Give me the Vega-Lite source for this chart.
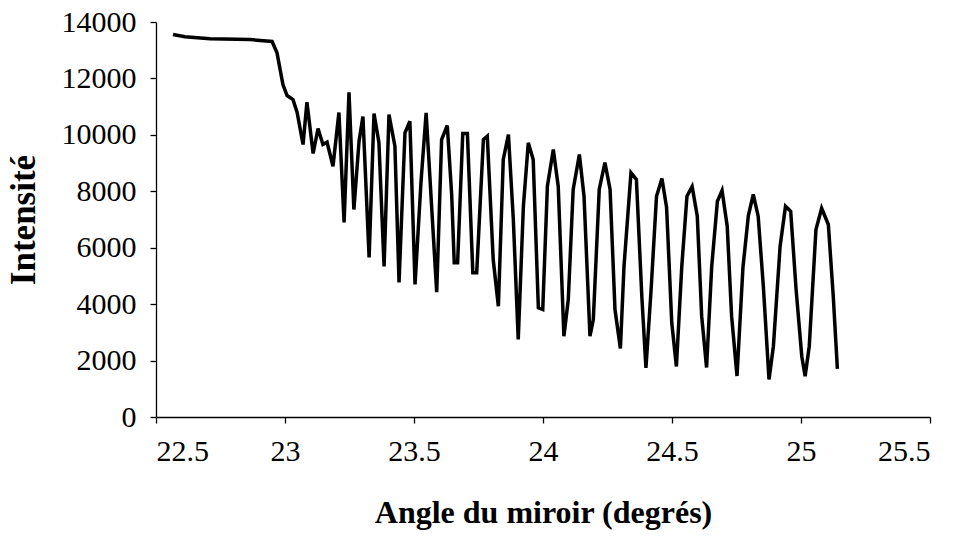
{
  "$schema": "https://vega.github.io/schema/vega-lite/v6.json",
  "width": 774,
  "height": 395,
  "autosize": {"type": "none"},
  "padding": {"left": 156, "top": 22, "right": 32, "bottom": 123},
  "background": "white",
  "config": {
    "view": {"stroke": null},
    "font": "Liberation Serif",
    "axis": {
      "grid": false,
      "domainColor": "black",
      "domainWidth": 1.3,
      "tickColor": "black",
      "tickWidth": 1.3,
      "tickSize": 6,
      "labelFont": "Liberation Serif",
      "labelFontSize": 30,
      "labelColor": "black",
      "titleFont": "Liberation Serif",
      "titleFontWeight": "bold",
      "titleColor": "black"
    }
  },
  "data": {
    "values": [
      {"angle": 22.566, "intensite": 13556},
      {"angle": 22.612, "intensite": 13474},
      {"angle": 22.709, "intensite": 13403},
      {"angle": 22.864, "intensite": 13379},
      {"angle": 22.950, "intensite": 13308},
      {"angle": 22.969, "intensite": 12907},
      {"angle": 22.992, "intensite": 11784},
      {"angle": 23.008, "intensite": 11394},
      {"angle": 23.031, "intensite": 11252},
      {"angle": 23.047, "intensite": 10792},
      {"angle": 23.070, "intensite": 9658},
      {"angle": 23.085, "intensite": 11157},
      {"angle": 23.109, "intensite": 9339},
      {"angle": 23.128, "intensite": 10224},
      {"angle": 23.147, "intensite": 9658},
      {"angle": 23.163, "intensite": 9739},
      {"angle": 23.186, "intensite": 8888},
      {"angle": 23.209, "intensite": 10792},
      {"angle": 23.229, "intensite": 6893},
      {"angle": 23.248, "intensite": 11511},
      {"angle": 23.267, "intensite": 7354},
      {"angle": 23.287, "intensite": 9774},
      {"angle": 23.302, "intensite": 10650},
      {"angle": 23.326, "intensite": 5653},
      {"angle": 23.345, "intensite": 10756},
      {"angle": 23.364, "intensite": 9728},
      {"angle": 23.384, "intensite": 5334},
      {"angle": 23.403, "intensite": 10721},
      {"angle": 23.426, "intensite": 9597},
      {"angle": 23.442, "intensite": 4767},
      {"angle": 23.465, "intensite": 10073},
      {"angle": 23.484, "intensite": 10484},
      {"angle": 23.504, "intensite": 4696},
      {"angle": 23.527, "intensite": 8311},
      {"angle": 23.547, "intensite": 10782},
      {"angle": 23.569, "intensite": 7354},
      {"angle": 23.588, "intensite": 4423},
      {"angle": 23.607, "intensite": 9835},
      {"angle": 23.629, "intensite": 10332},
      {"angle": 23.646, "intensite": 7886},
      {"angle": 23.656, "intensite": 5465},
      {"angle": 23.669, "intensite": 5465},
      {"angle": 23.689, "intensite": 10048},
      {"angle": 23.707, "intensite": 10048},
      {"angle": 23.728, "intensite": 5111},
      {"angle": 23.743, "intensite": 5111},
      {"angle": 23.769, "intensite": 9835},
      {"angle": 23.784, "intensite": 9952},
      {"angle": 23.807, "intensite": 5582},
      {"angle": 23.827, "intensite": 3927},
      {"angle": 23.846, "intensite": 9127},
      {"angle": 23.866, "intensite": 10013},
      {"angle": 23.885, "intensite": 7000},
      {"angle": 23.904, "intensite": 2747},
      {"angle": 23.924, "intensite": 7471},
      {"angle": 23.943, "intensite": 9718},
      {"angle": 23.962, "intensite": 9127},
      {"angle": 23.982, "intensite": 3870},
      {"angle": 23.999, "intensite": 3810},
      {"angle": 24.017, "intensite": 8180},
      {"angle": 24.040, "intensite": 9481},
      {"angle": 24.059, "intensite": 8180},
      {"angle": 24.081, "intensite": 2864},
      {"angle": 24.098, "intensite": 4165},
      {"angle": 24.117, "intensite": 8063},
      {"angle": 24.141, "intensite": 9304},
      {"angle": 24.159, "intensite": 7826},
      {"angle": 24.182, "intensite": 2864},
      {"angle": 24.195, "intensite": 3456},
      {"angle": 24.218, "intensite": 8063},
      {"angle": 24.240, "intensite": 9020},
      {"angle": 24.260, "intensite": 8063},
      {"angle": 24.279, "intensite": 3810},
      {"angle": 24.300, "intensite": 2428},
      {"angle": 24.314, "intensite": 5345},
      {"angle": 24.341, "intensite": 8655},
      {"angle": 24.362, "intensite": 8418},
      {"angle": 24.383, "intensite": 4281},
      {"angle": 24.399, "intensite": 1744},
      {"angle": 24.419, "intensite": 4519},
      {"angle": 24.440, "intensite": 7826},
      {"angle": 24.461, "intensite": 8453},
      {"angle": 24.479, "intensite": 7425},
      {"angle": 24.499, "intensite": 3349},
      {"angle": 24.517, "intensite": 1790},
      {"angle": 24.538, "intensite": 5345},
      {"angle": 24.558, "intensite": 7826},
      {"angle": 24.578, "intensite": 8170},
      {"angle": 24.598, "intensite": 7117},
      {"angle": 24.615, "intensite": 3573},
      {"angle": 24.634, "intensite": 1754},
      {"angle": 24.654, "intensite": 5345},
      {"angle": 24.676, "intensite": 7649},
      {"angle": 24.694, "intensite": 8028},
      {"angle": 24.714, "intensite": 6762},
      {"angle": 24.731, "intensite": 3573},
      {"angle": 24.752, "intensite": 1453},
      {"angle": 24.775, "intensite": 5299},
      {"angle": 24.796, "intensite": 7142},
      {"angle": 24.815, "intensite": 7886},
      {"angle": 24.834, "intensite": 7117},
      {"angle": 24.854, "intensite": 4636},
      {"angle": 24.876, "intensite": 1329},
      {"angle": 24.893, "intensite": 2509},
      {"angle": 24.919, "intensite": 6054},
      {"angle": 24.940, "intensite": 7471},
      {"angle": 24.960, "intensite": 7294},
      {"angle": 24.981, "intensite": 4519},
      {"angle": 25.003, "intensite": 2155},
      {"angle": 25.016, "intensite": 1446},
      {"angle": 25.032, "intensite": 2509},
      {"angle": 25.058, "intensite": 6646},
      {"angle": 25.080, "intensite": 7400},
      {"angle": 25.106, "intensite": 6823},
      {"angle": 25.125, "intensite": 4281},
      {"angle": 25.141, "intensite": 1708}
    ]
  },
  "mark": {"type": "line", "color": "black", "strokeWidth": 3.5, "strokeJoin": "miter", "strokeMiterLimit": 4},
  "encoding": {
    "x": {
      "field": "angle",
      "type": "quantitative",
      "scale": {"domain": [22.5, 25.5], "nice": false, "zero": false},
      "axis": {
        "title": "Angle du miroir (degrés)",
        "titleFontSize": 32,
        "values": [22.5, 23, 23.5, 24, 24.5, 25, 25.5],
        "format": "~g",
        "labelPadding": 13,
        "titlePadding": 31
      }
    },
    "y": {
      "field": "intensite",
      "type": "quantitative",
      "scale": {"domain": [0, 14000], "nice": false},
      "axis": {
        "title": "Intensité",
        "titleFontSize": 35,
        "values": [0, 2000, 4000, 6000, 8000, 10000, 12000, 14000],
        "format": "d",
        "labelPadding": 14,
        "titlePadding": 20
      }
    }
  }
}
